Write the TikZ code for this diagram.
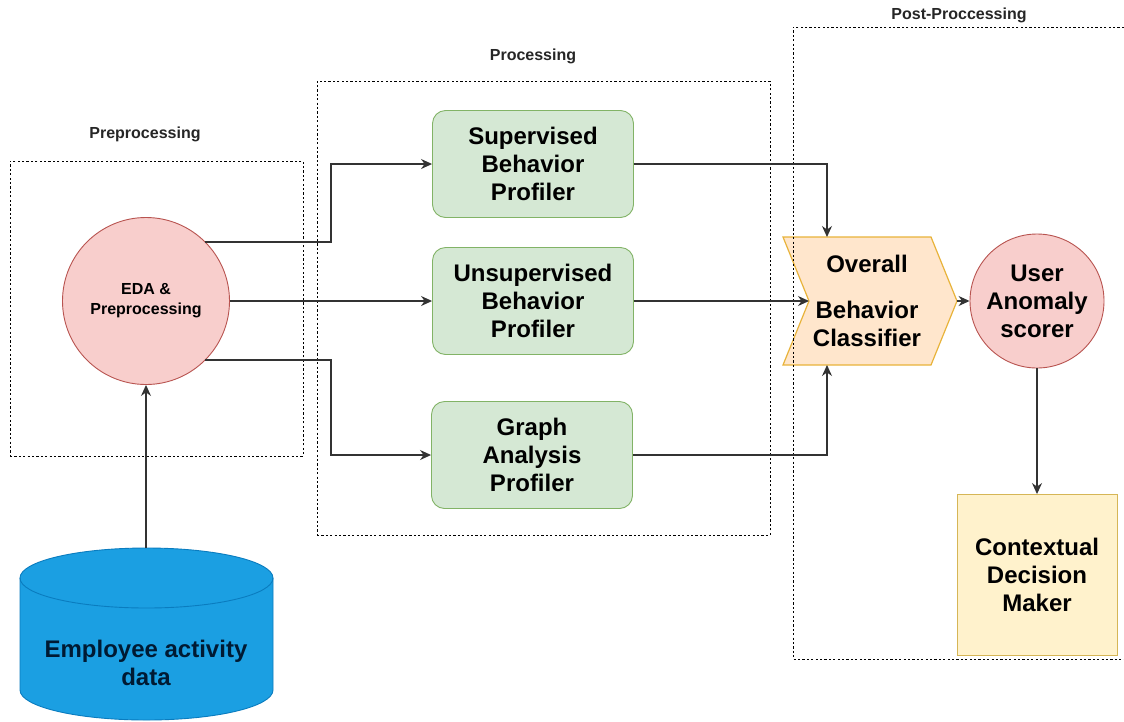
\documentclass[tikz,border=0pt]{standalone}
\usepackage{fontspec}
\setmainfont{Liberation Sans}
\usetikzlibrary{arrows.meta,shapes.geometric}
\definecolor{gfill}{HTML}{D5E8D4}
\definecolor{gline}{HTML}{82B366}
\definecolor{rfill}{HTML}{F8CECC}
\definecolor{rline}{HTML}{B85450}
\definecolor{ofill}{HTML}{FFE6CC}
\definecolor{oline}{HTML}{E8B33A}
\definecolor{yfill}{HTML}{FFF2CC}
\definecolor{yline}{HTML}{D6B656}
\definecolor{bfill}{HTML}{1B9FE2}
\definecolor{bline}{HTML}{0A7CBF}
\definecolor{dbtext}{HTML}{001A33}
\begin{document}
\begin{tikzpicture}[x=1pt,y=-1pt,
 groupbox/.style={draw=black,dash pattern=on 2.2pt off 2.2pt,line width=.7pt},
 grouplabel/.style={font=\fontsize{16}{18}\selectfont\bfseries,text=black!85,inner sep=0},
 profiler/.style={draw=gline,fill=gfill,rounded corners=13pt,line width=.9pt,minimum width=201pt,minimum height=107pt,align=center,font=\fontsize{24}{28}\selectfont\bfseries,inner sep=0},
 circ/.style={circle,draw=rline,fill=rfill,line width=.9pt,align=center,inner sep=0},
 conn/.style={-{Stealth[length=11pt,width=10pt]},line width=1.1pt,draw=black!80}]
\useasboundingbox (0,0) rectangle (1124,721);
\fill[white] (0,0) rectangle (1124,721);
\node[groupbox,minimum width=293pt,minimum height=295pt,inner sep=0] (pre) at (156.5,308.5) {};
\node[groupbox,minimum width=453pt,minimum height=454pt,inner sep=0] (proc) at (543.5,308) {};
\node[grouplabel] (l1) at (145,134) {Preprocessing};
\node[grouplabel] (l2) at (533,56) {Processing};
\node[grouplabel] (l3) at (959,15) {Post-Proccessing};
\node[circ,minimum size=167pt,font=\fontsize{16}{20}\selectfont\bfseries] (eda) at (146,301) {EDA \&\\Preprocessing};
\node[profiler] (sup) at (533,164) {Supervised\\Behavior\\Profiler};
\node[profiler] (uns) at (533,301) {Unsupervised\\Behavior\\Profiler};
\node[profiler] (gra) at (532,455) {Graph\\Analysis\\Profiler};
\draw[draw=oline,fill=ofill,line width=1.2pt] (783,237) -- (931,237) -- (957,301) -- (931,365) -- (783,365) -- (809,301) -- cycle;
\node[inner sep=0,minimum width=174pt,minimum height=128pt] (ov) at (870,301) {};
\node[align=center,font=\fontsize{24}{28.5}\selectfont\bfseries,inner sep=0] (ovt) at (867,301) {Overall\\[17pt]Behavior\\Classifier};
\draw[groupbox] (1124,27) -- (793,27) -- (793,659) -- (1124,659);
\node[circ,minimum size=134pt,font=\fontsize{24}{28}\selectfont\bfseries] (ano) at (1037,301) {User\\Anomaly\\scorer};
\node[draw=yline,fill=yfill,line width=.9pt,minimum width=160pt,minimum height=161pt,align=center,font=\fontsize{24}{28}\selectfont\bfseries,inner sep=0] (dec) at (1037,575) {Contextual\\Decision\\Maker};
\draw[bline,fill=bfill,line width=.9pt] (20,578) -- (20,690) arc[start angle=180,end angle=0,x radius=126.5,y radius=30] -- (273,578) arc[start angle=0,end angle=-180,x radius=126.5,y radius=30] -- cycle;
\draw[bline,line width=.9pt] (20,578) arc[start angle=180,end angle=0,x radius=126.5,y radius=30];
\node[align=center,font=\fontsize{24}{28}\selectfont\bfseries,text=dbtext,inner sep=0] (db) at (146,663) {Employee activity\\data};
\coordinate (dbtop) at (146,548);
\coordinate (s1) at (205,242);
\coordinate (s3) at (205,360);
\draw[conn] (dbtop) -- (eda.south);
\draw[conn] (s1) -- (331,242) -- (331,164) -- (sup.west);
\draw[conn] (eda.east) -- (uns.west);
\draw[conn] (s3) -- (331,360) -- (331,455) -- (gra.west);
\draw[conn] (sup.east) -- (827,164) -- (827,237);
\draw[conn] (uns.east) -- (809,301);
\draw[conn] (gra.east) -- (827,455) -- (827,365);
\draw[conn] (957,301) -- (ano.west);
\draw[conn] (ano.south) -- (dec.north);
\end{tikzpicture}
\end{document}
